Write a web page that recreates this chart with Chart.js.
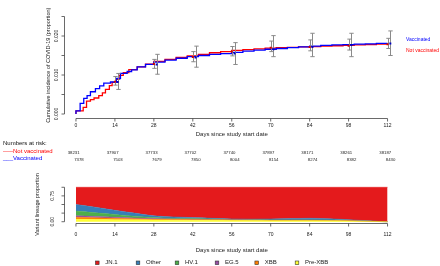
<!DOCTYPE html>
<html lang="en">
  <head>
    <meta charset="UTF-8" />
    <title>Cumulative incidence and variant lineages</title>
    <script src="https://cdn.jsdelivr.net/npm/chart.js"></script>
    <style>
      body { margin: 0; background: #fff; }
      #wrap { position: relative; width: 440px; height: 266px; }
      canvas { position: absolute; left: 0; top: 0; }
    </style>
  </head>
  <body>
    <div id="wrap">
      <canvas id="km" width="440" height="266"></canvas>
      <canvas id="variants" width="440" height="266"></canvas>
    </div>

    <script>
      // ---- cumulative incidence (step curves) ----
      const notVaxDays = [0, 2.6, 3.8, 5.2, 6.5, 8.2, 9.5, 10.6, 12, 13, 14.5, 15.5, 17, 19, 22, 25, 28, 32, 36, 40, 44, 48, 52, 56, 60, 64, 68, 72, 76, 80, 84, 88, 92, 96, 100, 104, 108, 112];
      const notVaxCum = [0, 0.0008, 0.0017, 0.0033, 0.0037, 0.0041, 0.0047, 0.0054, 0.0063, 0.0073, 0.0081, 0.0089, 0.0099, 0.0106, 0.0114, 0.0121, 0.0128, 0.0135, 0.014, 0.0145, 0.0149, 0.0153, 0.0157, 0.016, 0.0163, 0.0165, 0.0167, 0.0169, 0.017, 0.0171, 0.0172, 0.0173, 0.0174, 0.0175, 0.0176, 0.0177, 0.0178, 0.0179];
      const vaxDays = [0, 1.5, 2.8, 4, 5.2, 7, 8.5, 10, 12.4, 14.5, 16, 18.4, 20, 22, 25, 28, 32, 36, 40, 44, 48, 52, 56, 60, 64, 68, 72, 76, 80, 84, 88, 92, 96, 100, 104, 108, 112];
      const vaxCum = [0, 0.0008, 0.0027, 0.004, 0.0047, 0.0057, 0.0065, 0.0072, 0.0079, 0.0082, 0.0091, 0.0104, 0.0109, 0.0113, 0.0121, 0.0127, 0.0133, 0.0138, 0.0143, 0.0147, 0.015, 0.0153, 0.0155, 0.0158, 0.0161, 0.0164, 0.0166, 0.0168, 0.017, 0.0172, 0.0174, 0.0176, 0.0177, 0.0178, 0.0179, 0.018, 0.0181];

      // point estimates + 95% CI at the 2-week marks
      const notVaxBarDays = [14, 28, 42, 56, 70, 84, 98, 112];
      const notVaxEst = [0.0083, 0.0128, 0.0146, 0.016, 0.017, 0.0172, 0.0175, 0.0179];
      const notVaxLo = [0.0074, 0.0117, 0.0134, 0.0149, 0.016, 0.0162, 0.0164, 0.0168];
      const notVaxHi = [0.0096, 0.014, 0.016, 0.0173, 0.0187, 0.019, 0.0192, 0.0194];
      const vaxBarDays = [15, 29, 43, 57, 71, 85, 99, 113];
      const vaxEst = [0.0082, 0.0127, 0.0145, 0.0155, 0.0166, 0.0172, 0.0177, 0.0181];
      const vaxLo = [0.0063, 0.0102, 0.012, 0.0127, 0.0147, 0.0147, 0.0147, 0.015];
      const vaxHi = [0.0104, 0.0153, 0.0174, 0.0183, 0.0201, 0.0207, 0.0207, 0.0213];

      // numbers at risk
      const riskDays = [0, 14, 28, 42, 56, 70, 84, 98, 112];
      const riskNotVax = [38231, 37907, 37733, 37702, 37740, 37897, 38171, 38261, 38187];
      const riskVax = [7378, 7503, 7679, 7850, 8004, 8154, 8274, 8382, 8430];

      // tick labels
      const dayTicks = [0, 14, 28, 42, 56, 70, 84, 98, 112];
      const kmTicks = [0, 0.005, 0.01, 0.015, 0.02, 0.025];
      const kmTickLabels = ['0.000', '', '0.010', '', '0.020', ''];
      const propTicks = [0, 0.25, 0.5, 0.75, 1];
      const propTickLabels = ['0.00', '', '', '0.75', ''];

      // ---- variant lineage proportions ----
      const lineageDays = [0, 7, 14, 21, 28, 35, 42, 49, 56, 63, 70, 77, 84, 91, 98, 105, 112];
      const preXBB = [0.07, 0.065, 0.06, 0.055, 0.05, 0.045, 0.04, 0.04, 0.035, 0.035, 0.03, 0.03, 0.03, 0.025, 0.02, 0.01, 0];
      const xbb = [0.06, 0.05, 0.04, 0.03, 0.02, 0.02, 0.02, 0.015, 0.015, 0.01, 0.01, 0.01, 0.01, 0.01, 0.01, 0.005, 0];
      const eg5 = [0.04, 0.035, 0.03, 0.025, 0.02, 0.015, 0.01, 0.005, 0.005, 0.005, 0.005, 0.005, 0.005, 0.005, 0.005, 0, 0];
      const hv1 = [0.14, 0.11, 0.08, 0.05, 0.03, 0.02, 0.02, 0.015, 0.01, 0.005, 0.005, 0.005, 0.005, 0.005, 0.005, 0, 0];
      const other = [0.19, 0.16, 0.12, 0.09, 0.05, 0.04, 0.03, 0.025, 0.015, 0.02, 0.03, 0.04, 0.05, 0.04, 0.02, 0.01, 0];
      const jn1 = [0.5, 0.58, 0.67, 0.75, 0.83, 0.86, 0.88, 0.9, 0.92, 0.925, 0.92, 0.91, 0.9, 0.915, 0.94, 0.975, 1];

      const lineageNames = ['JN.1', 'Other', 'HV.1', 'EG.5', 'XBB', 'Pre-XBB'];
      const lineageColors = ['#E41A1C', '#377EB8', '#4DAF4A', '#984EA3', '#FF7F00', '#FFFF33'];

      const FONT = '"Liberation Sans", Arial, sans-serif';
      const RED = '#ff0000';
      const BLUE = '#0000ff';

      function xy(xs, ys) {
        return xs.map((x, i) => ({ x: x, y: ys[i] }));
      }

      function txt(ctx, s, x, y, size, color, align, rot) {
        ctx.save();
        ctx.translate(x, y);
        if (rot) ctx.rotate(rot);
        ctx.font = size + 'px ' + FONT;
        ctx.fillStyle = color || '#000';
        ctx.textAlign = align || 'center';
        ctx.textBaseline = 'middle';
        ctx.fillText(s, 0, 0);
        ctx.restore();
      }

      function seg(ctx, x0, y0, x1, y1) {
        ctx.beginPath();
        ctx.moveTo(x0, y0);
        ctx.lineTo(x1, y1);
        ctx.stroke();
      }

      // R style axes: line only from first to last tick, ticks outward
      const rAxes = {
        id: 'rAxes',
        afterDraw(chart, args, o) {
          const { ctx, chartArea: a } = chart;
          const xs = chart.scales.x, ys = chart.scales.y;
          ctx.save();
          ctx.strokeStyle = '#444';
          ctx.lineWidth = 0.8;
          const yb = Math.round(a.bottom) + 0.5;
          const px = o.xTicks.map((t) => xs.getPixelForValue(t));
          seg(ctx, px[0], yb, px[px.length - 1], yb);
          px.forEach((p, i) => {
            seg(ctx, p, yb, p, yb + 3);
            txt(ctx, String(o.xTicks[i]), p, yb + o.xLabelGap, o.tickSize, '#222');
          });
          txt(ctx, o.xTitle, (px[0] + px[px.length - 1]) / 2, yb + o.xTitleGap, 6, '#222');

          const xl = Math.round(a.left) + 0.5;
          const py = o.yTicks.map((t) => ys.getPixelForValue(t));
          seg(ctx, xl, py[0], xl, py[py.length - 1]);
          py.forEach((p, i) => {
            seg(ctx, xl, p, xl - 3, p);
            if (o.yLabels[i]) txt(ctx, o.yLabels[i], o.yLabelX, p, o.tickSize, '#222', 'center', -Math.PI / 2);
          });
          txt(ctx, o.yTitle, o.yTitleX, (a.top + a.bottom) / 2, 5.5, '#222', 'center', -Math.PI / 2);
          ctx.restore();
        },
      };

      // confidence interval bars drawn right after the curves
      const ciBars = {
        id: 'ciBars',
        afterDatasetDraw(chart, args) {
          if (args.index !== 1) return;
          const { ctx } = chart;
          const xs = chart.scales.x, ys = chart.scales.y;
          ctx.save();
          ctx.strokeStyle = '#8a8a8a';
          ctx.lineWidth = 1;
          const groups = [
            [notVaxBarDays, notVaxLo, notVaxHi],
            [vaxBarDays, vaxLo, vaxHi],
          ];
          groups.forEach(([d, lo, hi]) => {
            d.forEach((t, i) => {
              const x = Math.round(xs.getPixelForValue(t)) + 0.5;
              const y0 = ys.getPixelForValue(lo[i]);
              const y1 = ys.getPixelForValue(hi[i]);
              seg(ctx, x, y0, x, y1);
              seg(ctx, x - 2.2, y0, x + 2.2, y0);
              seg(ctx, x - 2.2, y1, x + 2.2, y1);
            });
          });
          ctx.restore();
        },
      };

      // legend, numbers at risk
      const kmExtras = {
        id: 'kmExtras',
        afterDraw(chart) {
          const { ctx } = chart;
          const xs = chart.scales.x;
          txt(ctx, 'Vaccinated', 406, 40, 5, BLUE, 'left');
          txt(ctx, 'Not vaccinated', 406, 51, 5, RED, 'left');

          txt(ctx, 'Numbers at risk:', 3, 143.5, 6, '#111', 'left');
          txt(ctx, '-----Not vaccinated', 3, 151, 6, RED, 'left');
          txt(ctx, '___Vaccinated', 3, 158.5, 6, BLUE, 'left');
          riskDays.forEach((d, i) => {
            const p = xs.getPixelForValue(d);
            txt(ctx, String(riskNotVax[i]), p - 2.3, 153.3, 4.3, '#222');
            txt(ctx, String(riskVax[i]), p + 3, 160, 4.3, '#222');
          });
        },
      };

      const variantLegend = {
        id: 'variantLegend',
        afterDraw(chart) {
          const { ctx } = chart;
          const boxX = [97.3, 138, 177, 217, 256.7, 297];
          lineageNames.forEach((n, i) => {
            ctx.save();
            ctx.fillStyle = lineageColors[i];
            ctx.strokeStyle = '#333';
            ctx.lineWidth = 0.6;
            ctx.fillRect(boxX[i] - 1.8, 261, 3.6, 3.6);
            ctx.strokeRect(boxX[i] - 1.8, 261, 3.6, 3.6);
            ctx.restore();
            txt(ctx, n, boxX[i] + 8, 262.8, 6, '#222', 'left');
          });
        },
      };

      const dayScale = { type: 'linear', min: -4.48, max: 116.48, display: false };

      new Chart(document.getElementById('km'), {
        type: 'line',
        data: {
          datasets: [
            {
              label: 'Not vaccinated',
              data: xy(notVaxDays, notVaxCum),
              stepped: 'after',
              borderColor: RED,
              borderWidth: 1.3,
              pointRadius: 0,
              order: 4,
            },
            {
              label: 'Vaccinated',
              data: xy(vaxDays, vaxCum),
              stepped: 'after',
              borderColor: BLUE,
              borderWidth: 1.3,
              pointRadius: 0,
              order: 3,
            },
            {
              type: 'scatter',
              label: 'Not vaccinated estimate',
              data: xy(notVaxBarDays, notVaxEst),
              pointStyle: 'rect',
              pointRadius: 1.4,
              backgroundColor: '#d00000',
              borderWidth: 0,
              order: 1,
            },
            {
              type: 'scatter',
              label: 'Vaccinated estimate',
              data: xy(vaxBarDays, vaxEst),
              pointStyle: 'rect',
              pointRadius: 1.4,
              backgroundColor: '#0000c0',
              borderWidth: 0,
              order: 0,
            },
          ],
        },
        options: {
          responsive: false,
          animation: false,
          events: [],
          layout: { padding: { left: 63.5, right: 40, top: 12.6, bottom: 148.1 } },
          scales: {
            x: dayScale,
            y: { type: 'linear', min: -0.001, max: 0.026, display: false },
          },
          plugins: {
            legend: { display: false },
            tooltip: { enabled: false },
            rAxes: {
              xTicks: dayTicks,
              yTicks: kmTicks,
              yLabels: kmTickLabels,
              xTitle: 'Days since study start date',
              yTitle: 'Cumulative incidence of COVID-19 (proportion)',
              tickSize: 5,
              xLabelGap: 7,
              xTitleGap: 16,
              yLabelX: 56.5,
              yTitleX: 48,
            },
          },
        },
        plugins: [rAxes, ciBars, kmExtras],
      });

      const stackSeries = [
        ['Pre-XBB', preXBB, '#FFFF33'],
        ['XBB', xbb, '#FF7F00'],
        ['EG.5', eg5, '#984EA3'],
        ['HV.1', hv1, '#4DAF4A'],
        ['Other', other, '#377EB8'],
        ['JN.1', jn1, '#E41A1C'],
      ];

      new Chart(document.getElementById('variants'), {
        type: 'line',
        data: {
          datasets: stackSeries.map(([name, vals, col], i) => ({
            label: name,
            data: xy(lineageDays, vals),
            fill: i === 0 ? 'origin' : '-1',
            backgroundColor: col,
            borderColor: col,
            borderWidth: 0.5,
            pointRadius: 0,
            tension: 0.35,
            cubicInterpolationMode: 'monotone',
          })),
        },
        options: {
          responsive: false,
          animation: false,
          events: [],
          layout: { padding: { left: 63.5, right: 40, top: 185.9, bottom: 42.9 } },
          scales: {
            x: dayScale,
            y: { type: 'linear', stacked: true, min: -0.04, max: 1.04, display: false },
          },
          plugins: {
            legend: { display: false },
            tooltip: { enabled: false },
            filler: { propagate: false },
            rAxes: {
              xTicks: dayTicks,
              yTicks: propTicks,
              yLabels: propTickLabels,
              xTitle: 'Days since study start date',
              yTitle: 'Variant lineage proportion',
              tickSize: 5,
              xLabelGap: 11.5,
              xTitleGap: 27,
              yLabelX: 53,
              yTitleX: 37,
            },
          },
        },
        plugins: [rAxes, variantLegend],
      });
    </script>
  </body>
</html>
